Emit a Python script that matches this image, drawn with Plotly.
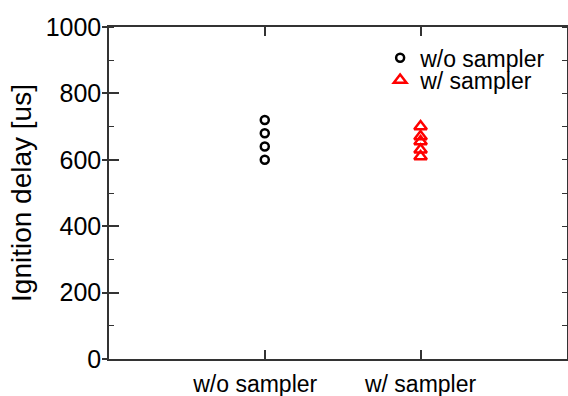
import plotly.graph_objects as go

categories = ["w/o sampler\u00a0\u00a0\u00a0", "w/ sampler"]
cat_pos = [1, 2]
wo_sampler = [720, 680, 640, 600]
w_sampler = [700, 670, 655, 630, 610]
y_ticks = [0, 200, 400, 600, 800, 1000]

FONT = "Arial, Liberation Sans, sans-serif"

fig = go.Figure()
fig.add_trace(go.Scatter(
    x=[cat_pos[0]] * len(wo_sampler), y=wo_sampler, mode="markers",
    name="w/o sampler", legend="legend",
    marker=dict(symbol="circle-open", size=8, color="black", line=dict(width=2.5, color="black")),
))
fig.add_trace(go.Scatter(
    x=[cat_pos[1]] * len(w_sampler), y=w_sampler, mode="markers",
    name="w/ sampler", legend="legend2",
    marker=dict(symbol="triangle-up-open", size=11, color="red", line=dict(width=2.5, color="red")),
))
# invisible trace for the inner half of crossing y ticks
fig.add_trace(go.Scatter(x=[None], y=[None], yaxis="y2", showlegend=False, hoverinfo="skip"))

leg_common = dict(xanchor="left", yanchor="middle", bgcolor="rgba(0,0,0,0)",
                  font=dict(size=23, family=FONT), itemwidth=30)

fig.update_layout(
    width=568, height=396,
    margin=dict(l=109, r=1, t=27, b=37, autoexpand=False),
    paper_bgcolor="white", plot_bgcolor="white",
    font=dict(family=FONT, size=24, color="black"),
    showlegend=True,
    legend=dict(x=0.592, y=0.907, **leg_common),
    legend2=dict(x=0.592, y=0.840, **leg_common),
    xaxis=dict(
        range=[0, 2.94], tickvals=cat_pos, ticktext=categories,
        showgrid=False, zeroline=False, automargin=False,
        showline=True, linecolor="#333", linewidth=1.5, mirror="ticks",
        ticks="inside", ticklen=9, tickwidth=1.5, tickcolor="#333",
        tickfont=dict(size=23), ticklabelstandoff=4,
    ),
    yaxis=dict(
        range=[0, 1000], tickvals=y_ticks,
        showgrid=False, zeroline=False, automargin=False,
        showline=True, linecolor="#333", linewidth=1.5, mirror="ticks",
        ticks="outside", ticklen=5, tickwidth=1.5, tickcolor="#333",
        tickfont=dict(size=25), ticklabelstandoff=-4,
        title=dict(text="Ignition delay [us]", font=dict(size=28), standoff=6),
        minor=dict(dtick=100, ticks="inside", ticklen=5, tickwidth=1.2, tickcolor="#333", showgrid=False),
    ),
    yaxis2=dict(
        range=[0, 1000], tickvals=y_ticks, overlaying="y", side="left",
        showgrid=False, zeroline=False, showline=False, showticklabels=False,
        automargin=False,
        ticks="inside", ticklen=10, tickwidth=1.5, tickcolor="#333",
    ),
)

fig.write_html("out.html", config={"displayModeBar": False},
               post_script="document.body.style.margin='0';")
